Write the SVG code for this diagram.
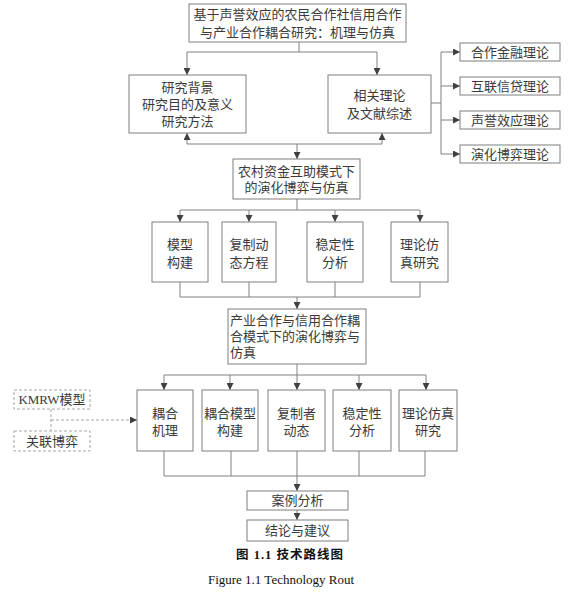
<svg xmlns="http://www.w3.org/2000/svg" width="574" height="596" viewBox="0 0 574 596">
<style>
.box{fill:#fff;stroke:#7f7f7f;stroke-width:1}
.dbox{fill:#fff;stroke:#a6a6a6;stroke-width:1;stroke-dasharray:3 2}
.t{font-family:"Liberation Serif","Noto Sans CJK SC",serif;font-size:13px;fill:#3a3a3a;text-anchor:middle}
.tl{font-family:"Liberation Serif","Noto Sans CJK SC",serif;font-size:13px;fill:#3a3a3a;text-anchor:start}
.ln{stroke:#808080;stroke-width:1;fill:none}
.ar{stroke:#808080;stroke-width:1;fill:none;marker-end:url(#ah)}
.dl{stroke:#a6a6a6;stroke-width:1;fill:none;stroke-dasharray:3 2}
.cap{font-family:"Liberation Serif","Noto Sans CJK SC",serif;fill:#111;text-anchor:middle}
</style>
<defs>
<marker id="ah" markerUnits="userSpaceOnUse" markerWidth="7" markerHeight="7" refX="7" refY="3.5" orient="auto">
<path d="M0,0 L7,3.5 L0,7 z" fill="#404040"/>
</marker>
</defs>
<g id="connectors">
<path class="ln" d="M299,42 V52 M187,52 H377"/>
<path class="ar" d="M187,52 V75"/>
<path class="ar" d="M377,52 V75"/>
<path class="ln" d="M431,103 H441 M441,52 V154"/>
<path class="ar" d="M441,52 H460"/>
<path class="ar" d="M441,86 H460"/>
<path class="ar" d="M441,120 H460"/>
<path class="ar" d="M441,154 H460"/>
<path class="ln" d="M187,144 H382"/>
<path class="ar" d="M187,144 V133"/>
<path class="ar" d="M382,144 V133"/>
<path class="ar" d="M297,144 V159"/>
<path class="ln" d="M297,199 V210 M180,210 H420"/>
<path class="ar" d="M180,210 V222"/>
<path class="ar" d="M249,210 V222"/>
<path class="ar" d="M335,210 V222"/>
<path class="ar" d="M420,210 V222"/>
<path class="ln" d="M180,282 V297 M249,282 V297 M335,282 V297 M420,282 V297 M180,297 H420"/>
<path class="ar" d="M297,297 V309"/>
<path class="ln" d="M297,364 V375 M164,375 H426"/>
<path class="ar" d="M164,375 V390"/>
<path class="ar" d="M230,375 V390"/>
<path class="ar" d="M297,375 V390"/>
<path class="ar" d="M359,375 V390"/>
<path class="ar" d="M426,375 V390"/>
<path class="ln" d="M164,451 V476 M231,451 V476 M297,451 V476 M359,451 V476 M425,451 V476 M164,476 H425"/>
<path class="ar" d="M297,476 V491"/>
<path class="ar" d="M297,510 V520"/>
<path class="dl" d="M51,409 V431 M51,420 H131"/>
<path class="ar" d="M131,420 H137"/>
</g>
<g id="n-top"><rect class="box" x="189" y="4" width="217" height="38"/>
<text class="t" x="297.5" y="18.5">基于声誉效应的农民合作社信用合作</text>
<text class="t" x="297.5" y="36.5">与产业合作耦合研究：机理与仿真</text></g>
<g id="n-bg"><rect class="box" x="129" y="75" width="117" height="58"/>
<text class="t" x="187.5" y="91.5">研究背景</text>
<text class="t" x="187.5" y="108.5">研究目的及意义</text>
<text class="t" x="187.5" y="125.5">研究方法</text></g>
<g id="n-lit"><rect class="box" x="328" y="75" width="103" height="58"/>
<text class="t" x="379.5" y="99.5">相关理论</text>
<text class="t" x="379.5" y="117.5">及文献综述</text></g>
<g id="n-th1"><rect class="box" x="460" y="43" width="100" height="18"/><text class="t" x="510" y="56.5">合作金融理论</text></g>
<g id="n-th2"><rect class="box" x="460" y="77" width="100" height="18"/><text class="t" x="510" y="90.5">互联信贷理论</text></g>
<g id="n-th3"><rect class="box" x="460" y="111" width="100" height="18"/><text class="t" x="510" y="124.5">声誉效应理论</text></g>
<g id="n-th4"><rect class="box" x="460" y="145" width="100" height="18"/><text class="t" x="510" y="158.5">演化博弈理论</text></g>
<g id="n-rural"><rect class="box" x="233" y="159" width="127" height="40"/>
<text class="t" x="296.5" y="175.5">农村资金互助模式下</text>
<text class="t" x="296.5" y="191.5">的演化博弈与仿真</text></g>
<g id="n-a1"><rect class="box" x="152" y="222" width="56" height="60"/><text class="t" x="180" y="248.5">模型</text><text class="t" x="180" y="266.5">构建</text></g>
<g id="n-a2"><rect class="box" x="222" y="222" width="54" height="60"/><text class="t" x="249" y="248.5">复制动</text><text class="t" x="249" y="266.5">态方程</text></g>
<g id="n-a3"><rect class="box" x="307" y="222" width="56" height="60"/><text class="t" x="335" y="248.5">稳定性</text><text class="t" x="335" y="266.5">分析</text></g>
<g id="n-a4"><rect class="box" x="391" y="222" width="57" height="60"/><text class="t" x="419.5" y="248.5">理论仿</text><text class="t" x="419.5" y="266.5">真研究</text></g>
<g id="n-coup"><rect class="box" x="228" y="309" width="138" height="55"/>
<text class="tl" x="230" y="324.5">产业合作与信用合作耦</text>
<text class="tl" x="230" y="340.5">合模式下的演化博弈与</text>
<text class="tl" x="230" y="356.5">仿真</text></g>
<g id="n-b1"><rect class="box" x="137" y="390" width="56" height="61"/><text class="t" x="165" y="417.5">耦合</text><text class="t" x="165" y="434.5">机理</text></g>
<g id="n-b2"><rect class="box" x="202" y="390" width="56" height="61"/><text class="t" x="230" y="417.5">耦合模型</text><text class="t" x="230" y="434.5">构建</text></g>
<g id="n-b3"><rect class="box" x="268" y="390" width="57" height="61"/><text class="t" x="296.5" y="417.5">复制者</text><text class="t" x="296.5" y="434.5">动态</text></g>
<g id="n-b4"><rect class="box" x="333" y="390" width="58" height="61"/><text class="t" x="362" y="417.5">稳定性</text><text class="t" x="362" y="434.5">分析</text></g>
<g id="n-b5"><rect class="box" x="399" y="390" width="58" height="61"/><text class="t" x="428" y="417.5">理论仿真</text><text class="t" x="428" y="434.5">研究</text></g>
<g id="n-kmrw"><rect class="dbox" x="14" y="390" width="76" height="19"/><text class="t" x="52" y="404">KMRW模型</text></g>
<g id="n-assoc"><rect class="dbox" x="14" y="431" width="76" height="20"/><text class="t" x="52" y="445.5">关联博弈</text></g>
<g id="n-case"><rect class="box" x="247" y="491" width="101" height="19"/><text class="t" x="297.5" y="505">案例分析</text></g>
<g id="n-concl"><rect class="box" x="247" y="520" width="101" height="21"/><text class="t" x="297.5" y="535">结论与建议</text></g>
<g id="caption">
<text class="cap" x="290" y="559" font-size="12.5" font-weight="bold" letter-spacing="1">图 1.1  技术路线图</text>
<text class="cap" x="281" y="584" font-size="13">Figure 1.1 Technology Rout</text>
</g>
</svg>
